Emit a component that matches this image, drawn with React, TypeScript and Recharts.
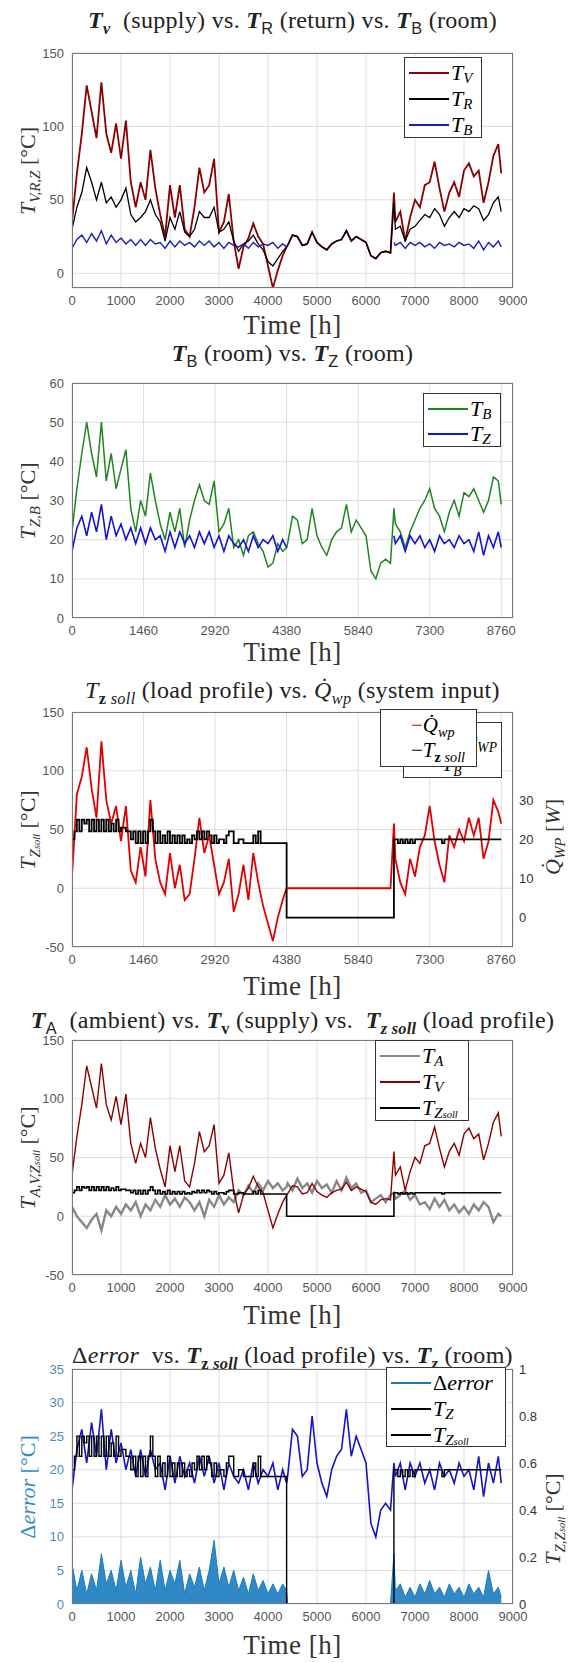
import React from "react";
import {
  ComposedChart,
  Line,
  Area,
  XAxis,
  YAxis,
  CartesianGrid,
} from "recharts";

// time grid (h), shared by the hourly series
const HOURS = [
  0, 100, 200, 300, 400, 500, 600, 700, 800, 900, 1000, 1100, 1200, 1300, 1400,
  1500, 1600, 1700, 1800, 1900, 2000, 2100, 2200, 2300, 2400, 2500, 2600, 2700,
  2800, 2900, 3000, 3100, 3200, 3300, 3400, 3500, 3600, 3700, 3800, 3900, 4000,
  4100, 4200, 4300, 4380,
  4400, 4500, 4600, 4700, 4800, 4900, 5000, 5100, 5200, 5300, 5400, 5500, 5600,
  5700, 5800, 5900, 6000, 6100, 6200, 6300, 6400, 6500,
  6570, 6600, 6700, 6800, 6900, 7000, 7100, 7200, 7300, 7400, 7500, 7600, 7700,
  7800, 7900, 8000, 8100, 8200, 8300, 8400, 8500, 8600, 8700, 8760,
];

// 4400..6500 h: heating off, all temperatures follow the room
const GAP_ROOM = [19, 26, 25, 19, 20, 28, 21, 18, 16, 20, 22, 23, 29, 22, 25, 23, 21, 12, 10, 14, 15, 14];
const GAP_ZERO = [0, 0, 0, 0, 0, 0, 0, 0, 0, 0, 0, 0, 0, 0, 0, 0, 0, 0, 0, 0, 0, 0];
const GAP_NONE = [null, null, null, null, null, null, null, null, null, null, null,
  null, null, null, null, null, null, null, null, null, null, null];

// supply temperature T_V
const TV_EARLY = [35, 68, 95, 128, 110, 92, 130, 95, 82, 102, 78, 104, 62, 45, 62, 50, 84, 58, 40, 25, 60, 38, 60, 30, 25, 45, 72, 55, 60, 78, 28, 35, 54, 22, 3, 18, 24, 34, 25, 20, 5, -10, 2, 12, 18];
const TV_LATE = [55, 35, 42, 22, 38, 50, 45, 60, 62, 76, 58, 42, 55, 62, 52, 70, 75, 66, 70, 48, 62, 80, 88, 68];

// return temperature T_R
const TR_EARLY = [30, 45, 55, 72, 62, 50, 62, 48, 52, 45, 50, 58, 40, 35, 38, 42, 50, 40, 35, 22, 38, 30, 42, 28, 25, 30, 42, 38, 38, 45, 28, 30, 35, 22, 15, 20, 22, 26, 20, 16, 8, 5, 10, 15, 18];
const TR_LATE = [48, 30, 32, 22, 30, 32, 36, 40, 38, 44, 40, 32, 38, 42, 38, 44, 42, 46, 44, 36, 40, 48, 52, 42];

// room temperature T_Z
const TZ_EARLY = [17, 23, 26, 21, 27, 22, 29, 20, 26, 21, 24, 20, 23, 19, 23, 19, 23, 20, 21, 17, 22, 18, 22, 19, 21, 18, 22, 19, 22, 18, 21, 17, 21, 19, 18, 20, 17, 21, 18, 20, 19, 21, 17, 20, 18];
const TZ_LATE = [21, 19, 21, 17, 21, 19, 21, 18, 20, 17, 21, 19, 20, 18, 21, 19, 20, 17, 22, 16, 21, 18, 22, 18];

// buffer temperature T_B (second plot)
const TB_EARLY = [22, 33, 42, 50, 42, 36, 50, 35, 42, 33, 38, 43, 28, 22, 30, 26, 37, 30, 24, 20, 27, 22, 28, 18, 25, 30, 34, 30, 29, 35, 22, 24, 28, 18, 20, 16, 21, 22, 19, 17, 13, 14, 19, 17, 18];
const TB_LATE = [28, 24, 22, 18, 22, 25, 28, 30, 33, 28, 26, 22, 27, 30, 26, 32, 31, 33, 30, 27, 30, 36, 35, 29];

// heat pump input Q_wp
const Q_EARLY = [10, 80, 95, 120, 85, 60, 125, 75, 55, 70, 40, 70, 15, 5, 35, 10, 75, 25, 5, -5, 30, 0, 20, -10, -5, 25, 60, 30, 45, 20, -5, 5, 25, -20, -5, 20, -10, 30, 5, -15, -30, -45, -25, -10, 0];
const Q_LATE = [55, 25, 5, -5, 25, 10, 35, 45, 70, 40, 20, 5, 45, 35, 50, 40, 60, 45, 60, 25, 40, 75, 65, 55];

// ambient temperature T_A
const TA_EARLY = [8, 0, -5, -10, -3, 2, -12, 5, 0, 8, 2, 10, 5, 12, 0, 10, 5, 14, 8, 18, 10, 15, 8, 16, 12, 5, 12, 0, 14, 8, 18, 10, 16, 12, 22, 18, 26, 20, 28, 22, 30, 24, 28, 22, 25];
const TA_GAP = [28, 22, 32, 24, 28, 20, 30, 24, 27, 20, 30, 22, 33, 24, 28, 20, 22, 12, 15, 18, 12, 18];
const TA_LATE = [20, 15, 18, 22, 14, 18, 10, 12, 6, 15, 8, 14, 5, 10, 3, 8, 2, 10, 5, 12, 8, -5, 2, 0];

// control error
const ERR_EARLY = [6, 2, 5, 1.5, 4.5, 2, 7.5, 3, 5, 2, 6.5, 2.5, 5, 1.5, 7, 3, 5.5, 2, 6.5, 2, 5, 3, 6.5, 1.5, 4.5, 2.5, 5.5, 2, 5, 9.5, 3, 5.5, 2.5, 5, 2, 4, 1.5, 4.5, 2, 3.5, 1.5, 3, 1.5, 3, 2];
const ERR_LATE = [7.5, 2, 3, 1, 2.5, 1, 3, 1.5, 3.5, 1.5, 2.5, 1, 3, 1.5, 2.5, 1, 3, 1.5, 2.5, 1, 5, 1.5, 2.5, 1];

// load profile T_Z,soll (step changes)
const SOLL_HOURS = [0, 50, 100, 150, 200, 250, 300, 350, 400, 450, 500, 550, 600, 650, 700, 750, 800, 850, 900, 950, 1000, 1100, 1200, 1250, 1300, 1350, 1400, 1450, 1500, 1550, 1600, 1650, 1700, 1750, 1800, 1850, 1900, 1950, 2000, 2050, 2100, 2150, 2200, 2250, 2300, 2350, 2400, 2450, 2500, 2550, 2600, 2650, 2700, 2750, 2800, 2850, 2900, 2950, 3000, 3100, 3150, 3200, 3300, 3400, 3500, 3700, 3750, 3800, 3850, 3900, 4380, 6570, 6650, 6700, 6750, 6800, 6850, 6900, 6950, 7000, 7550, 7600, 8760];
const SOLL_VALUES = [20, 22, 25, 22, 25, 24, 25, 22, 25, 22, 25, 22, 25, 22, 25, 22, 24, 22, 25, 22, 23, 22, 20, 22, 19, 22, 19, 22, 19, 22, 25, 22, 19, 22, 19, 21, 19, 22, 19, 21, 19, 21, 19, 21, 19, 20, 19, 21, 20, 22, 20, 22, 20, 22, 21, 19, 21, 19, 20, 19, 21, 22, 19, 20, 19, 21, 19, 22, 19, 19, 0, 20, 19, 20, 19, 20, 19, 20, 19, 20, 19, 20, 20];

const TICKS_1000 = [0, 1000, 2000, 3000, 4000, 5000, 6000, 7000, 8000, 9000];
const TICKS_1460 = [0, 1460, 2920, 4380, 5840, 7300, 8760];

const tv = [...TV_EARLY, ...GAP_ROOM, ...TV_LATE];
const tr = [...TR_EARLY, ...GAP_ROOM, ...TR_LATE];
const tzCut = [...TZ_EARLY, ...GAP_NONE, ...TZ_LATE];
const tzFull = [...TZ_EARLY, ...GAP_ROOM, ...TZ_LATE];
const tb = [...TB_EARLY, ...GAP_ROOM, ...TB_LATE];
const q = [...Q_EARLY, ...GAP_ZERO, ...Q_LATE];
const ta = [...TA_EARLY, ...TA_GAP, ...TA_LATE];
const err = [...ERR_EARLY, ...GAP_ZERO, ...ERR_LATE];

const rows = HOURS.map((h, i) => ({
  h,
  tv: tv[i],
  tr: tr[i],
  tzCut: tzCut[i],
  tzFull: tzFull[i],
  tb: tb[i],
  q: q[i],
  ta: ta[i],
  err: err[i],
}));
const sollRows = SOLL_HOURS.map((h, i) => ({ h, soll: SOLL_VALUES[i] }));

const PL = 72;
const PR = 513;
const PH = 235;
const TOP_PAD = 10;
const SERIF = "'Liberation Serif', 'Times New Roman', serif";
const SANS = "'Liberation Sans', Arial, sans-serif";
const tick = { fill: "#555", fontSize: 13, fontFamily: SANS };

const Sub = ({ children, sans }: { children: React.ReactNode; sans?: boolean }) => (
  <span style={{ fontSize: "0.68em", position: "relative", top: "0.35em", fontFamily: sans ? SANS : undefined }}>
    {children}
  </span>
);
const BT = () => <span style={{ fontWeight: "bold", fontStyle: "italic" }}>T</span>;
const IT = ({ children }: { children: React.ReactNode }) => <i>{children}</i>;
const DErr = () => <span>Δ<i>error</i></span>;

function Title({ y, children }: { y: number; children: React.ReactNode }) {
  return (
    <div style={{ position: "absolute", left: PL - 70, width: PR - PL + 140, top: y - 15, height: 30, lineHeight: "30px", textAlign: "center", fontFamily: SERIF, fontSize: 24, letterSpacing: 0.3, color: "#222", whiteSpace: "nowrap" }}>
      {children}
    </div>
  );
}

function XLabel({ y }: { y: number }) {
  return (
    <div style={{ position: "absolute", left: PL + 120, width: PR - PL - 240, top: y - 15, height: 30, lineHeight: "30px", textAlign: "center", fontFamily: SERIF, fontSize: 27, letterSpacing: 0.5, color: "#333" }}>
      Time [h]
    </div>
  );
}

function YLabel({ x, y, color, children }: { x: number; y: number; color?: string; children: React.ReactNode }) {
  return (
    <div style={{ position: "absolute", left: x, top: y, transform: "translate(-50%, -50%) rotate(-90deg)", fontFamily: SERIF, fontSize: 22, color: color || "#333", whiteSpace: "nowrap" }}>
      {children}
    </div>
  );
}

type Entry = { color: string; label: React.ReactNode };
function Legend({ left, top, width, height, rows: entries, lineLen = 40, rowGap = 26 }: { left: number; top: number; width: number; height: number; rows: Entry[]; lineLen?: number; rowGap?: number }) {
  return (
    <div style={{ position: "absolute", left, top, width, height, boxSizing: "border-box", border: "1px solid #333", background: "#fff", fontFamily: SERIF, fontSize: 22 }}>
      {entries.map((e, i) => (
        <div key={i} style={{ position: "absolute", left: 4, top: 3 + i * rowGap, height: 24, display: "flex", alignItems: "center", whiteSpace: "nowrap" }}>
          <span style={{ display: "inline-block", width: lineLen, height: 1.3, background: e.color, marginRight: 2 }} />
          {e.label}
        </div>
      ))}
    </div>
  );
}

function Frame({ top }: { top: number }) {
  return <div style={{ position: "absolute", left: PL, top, width: PR - PL, height: PH, boxSizing: "border-box", border: "1px solid #777", pointerEvents: "none" }} />;
}

function chartProps(top: number, hasRight: boolean) {
  return {
    width: 570,
    height: PH + TOP_PAD + 30,
    data: rows,
    margin: { top: TOP_PAD, right: hasRight ? 0 : 570 - PR, bottom: 0, left: 0 },
    style: { position: "absolute" as const, left: 0, top: top - TOP_PAD },
  };
}

function xAxis(ticks: number[]) {
  return (
    <XAxis dataKey="h" type="number" domain={[0, 9000]} ticks={ticks} interval={0} allowDataOverflow axisLine={false} tickLine={false} tick={tick} height={30} />
  );
}

function leftAxis(domain: number[], ticks: number[], color?: string) {
  return (
    <YAxis yAxisId="l" type="number" domain={domain} ticks={ticks} interval={0} allowDataOverflow axisLine={false} tickLine={false} width={PL} tickSize={4} tickMargin={4} tick={{ ...tick, fill: color || tick.fill }} />
  );
}

const P1 = 53;
const P2 = 383;
const P3 = 712;
const P4 = 1040;
const P5 = 1369;

export default function App() {
  return (
    <div style={{ position: "relative", width: 570, height: 1663, background: "#fff", overflow: "hidden" }}>
      <style>{"body{margin:0}"}</style>

      {/* 1: supply / return / buffer */}
      <ComposedChart {...chartProps(P1, false)}>
        <CartesianGrid yAxisId="l" stroke="#dedede" />
        {xAxis(TICKS_1000)}
        {leftAxis([-10, 150], [0, 50, 100, 150])}
        <Line yAxisId="l" dataKey="tv" stroke="#8b0000" strokeWidth={1.8} dot={false} isAnimationActive={false} />
        <Line yAxisId="l" dataKey="tr" stroke="#000" strokeWidth={1.3} dot={false} isAnimationActive={false} />
        <Line yAxisId="l" dataKey="tzCut" stroke="#1c1cc0" strokeWidth={1.4} dot={false} isAnimationActive={false} />
      </ComposedChart>
      <Frame top={P1} />
      <Title y={20}>
        <BT /><Sub><b><i>v</i></b></Sub>&nbsp; (supply) vs. <BT /><Sub sans>R</Sub> (return) vs. <BT /><Sub sans>B</Sub> (room)
      </Title>
      <YLabel x={28} y={P1 + PH / 2}><IT>T</IT><Sub><i>V,R,Z</i></Sub> [°C]</YLabel>
      <Legend left={404} top={57} width={78} height={81} rowGap={26} rows={[
        { color: "#8b0000", label: <><i>T</i><Sub><i>V</i></Sub></> },
        { color: "#000", label: <><i>T</i><Sub><i>R</i></Sub></> },
        { color: "#1c1cc0", label: <><i>T</i><Sub><i>B</i></Sub></> },
      ]} />
      <XLabel y={325} />

      {/* 2: buffer vs room */}
      <ComposedChart {...chartProps(P2, false)}>
        <CartesianGrid yAxisId="l" stroke="#dedede" />
        {xAxis(TICKS_1460)}
        {leftAxis([0, 60], [0, 10, 20, 30, 40, 50, 60])}
        <Line yAxisId="l" dataKey="tb" stroke="#1f861f" strokeWidth={1.5} dot={false} isAnimationActive={false} />
        <Line yAxisId="l" dataKey="tzCut" stroke="#1414d8" strokeWidth={1.6} dot={false} isAnimationActive={false} />
      </ComposedChart>
      <Frame top={P2} />
      <Title y={353}>
        <BT /><Sub sans>B</Sub> (room) vs. <BT /><Sub sans>Z</Sub> (room)
      </Title>
      <YLabel x={28} y={P2 + PH / 2}><IT>T</IT><Sub><i>Z,B</i></Sub> [°C]</YLabel>
      <Legend left={423} top={393} width={78} height={54} rowGap={25} rows={[
        { color: "#1f861f", label: <><i>T</i><Sub><i>B</i></Sub></> },
        { color: "#1414d8", label: <><i>T</i><Sub><i>Z</i></Sub></> },
      ]} />
      <XLabel y={652} />

      {/* 3: load profile vs heat pump input */}
      <ComposedChart {...chartProps(P3, true)}>
        <CartesianGrid yAxisId="l" stroke="#dedede" />
        {xAxis(TICKS_1460)}
        {leftAxis([-50, 150], [-50, 0, 50, 100, 150])}
        <YAxis yAxisId="r" orientation="right" type="number" domain={[-7.5, 52.5]} ticks={[0, 10, 20, 30]} interval={0} allowDataOverflow axisLine={false} tickLine={false} width={570 - PR} tickSize={2} tickMargin={4} tick={{ ...tick, fill: "#333" }} />
        <Line yAxisId="l" dataKey="q" stroke="#e00000" strokeWidth={1.8} dot={false} isAnimationActive={false} />
        <Line yAxisId="r" data={sollRows} dataKey="soll" type="stepAfter" stroke="#000" strokeWidth={1.8} dot={false} isAnimationActive={false} />
      </ComposedChart>
      <Frame top={P3} />
      <Title y={690}>
        <i>T</i><Sub><b>z</b> <i>soll</i></Sub> (load profile) vs. <i>Q{"\u0307"}</i><Sub><i>wp</i></Sub> (system input)
      </Title>
      <YLabel x={28} y={P3 + PH / 2}><IT>T</IT><Sub><i>Z<span style={{ fontSize: "0.7em" }}>soll</span></i></Sub> [°C]</YLabel>
      <YLabel x={553} y={P3 + 125}><IT>Q{"\u0307"}</IT><Sub><i>WP</i></Sub> [<i>W</i>]</YLabel>
      <div style={{ position: "absolute", left: 403, top: 722, width: 99, height: 56, boxSizing: "border-box", border: "1px solid #333", background: "#fff", fontFamily: SERIF, fontSize: 20 }}>
        <div style={{ position: "absolute", right: 4, top: 6 }}><i>Q{"\u0307"}</i><Sub><i>WP</i></Sub></div>
        <div style={{ position: "absolute", left: 38, top: 30 }}><i>T</i><Sub><i>B</i></Sub></div>
      </div>
      <div style={{ position: "absolute", left: 380, top: 709, width: 97, height: 58, boxSizing: "border-box", border: "1px solid #333", background: "#fff", fontFamily: SERIF, fontSize: 21 }}>
        <div style={{ position: "absolute", left: 30, top: 3, whiteSpace: "nowrap" }}><span style={{ color: "#e00000" }}>−</span><i>Q{"\u0307"}</i><Sub><i>wp</i></Sub></div>
        <div style={{ position: "absolute", left: 30, top: 28, whiteSpace: "nowrap" }}>−<i>T</i><Sub><b>z</b> <i>soll</i></Sub></div>
      </div>
      <XLabel y={986} />

      {/* 4: ambient / supply / load profile */}
      <ComposedChart {...chartProps(P4, false)}>
        <CartesianGrid yAxisId="l" stroke="#dedede" />
        {xAxis(TICKS_1000)}
        {leftAxis([-50, 150], [-50, 0, 50, 100, 150])}
        <Line yAxisId="l" dataKey="ta" stroke="#888" strokeWidth={2.4} dot={false} isAnimationActive={false} />
        <Line yAxisId="l" dataKey="tv" stroke="#8b0000" strokeWidth={1.4} dot={false} isAnimationActive={false} />
        <Line yAxisId="l" data={sollRows} dataKey="soll" type="stepAfter" stroke="#000" strokeWidth={1.6} dot={false} isAnimationActive={false} />
      </ComposedChart>
      <Frame top={P4} />
      <Title y={1020}>
        <BT /><Sub sans>A</Sub>&nbsp; (ambient) vs. <BT /><Sub><b>v</b></Sub> (supply) vs.&nbsp; <BT /><Sub><b><i>z soll</i></b></Sub> (load profile)
      </Title>
      <YLabel x={28} y={P4 + PH / 2}><IT>T</IT><Sub><i>A,V,Z<span style={{ fontSize: "0.7em" }}>soll</span></i></Sub> [°C]</YLabel>
      <Legend left={375} top={P4} width={94} height={81} rowGap={26} rows={[
        { color: "#888", label: <><i>T</i><Sub><i>A</i></Sub></> },
        { color: "#8b0000", label: <><i>T</i><Sub><i>V</i></Sub></> },
        { color: "#000", label: <><i>T</i><Sub><i>Z<span style={{ fontSize: "0.7em" }}>soll</span></i></Sub></> },
      ]} />
      <XLabel y={1315} />

      {/* 5: error / room / load profile */}
      <ComposedChart {...chartProps(P5, true)}>
        <CartesianGrid yAxisId="l" stroke="#dedede" />
        {xAxis(TICKS_1000)}
        {leftAxis([0, 35], [0, 5, 10, 15, 20, 25, 30, 35], "#4b8db8")}
        <YAxis yAxisId="r" orientation="right" type="number" domain={[0, 1]} ticks={[0, 0.2, 0.4, 0.6, 0.8, 1]} interval={0} allowDataOverflow axisLine={false} tickLine={false} width={570 - PR} tickSize={2} tickMargin={4} tick={{ ...tick, fill: "#333" }} />
        <Area yAxisId="l" dataKey="err" stroke="#1a7cc0" fill="#1a7cc0" fillOpacity={0.9} strokeWidth={1} dot={false} isAnimationActive={false} />
        <Line yAxisId="l" dataKey="tzFull" stroke="#1414c8" strokeWidth={1.6} dot={false} isAnimationActive={false} />
        <Line yAxisId="l" data={sollRows} dataKey="soll" type="stepAfter" stroke="#000" strokeWidth={1.4} dot={false} isAnimationActive={false} />
      </ComposedChart>
      <Frame top={P5} />
      <Title y={1355}>
        <DErr />&nbsp; vs. <BT /><Sub><b>z</b> <b><i>soll</i></b></Sub> (load profile) vs. <BT /><Sub><b><i>z</i></b></Sub> (room)
      </Title>
      <YLabel x={28} y={P5 + PH / 2} color="#2f8cc8"><DErr /> [°C]</YLabel>
      <YLabel x={553} y={P5 + 150}><IT>T</IT><Sub><i>Z,Z<span style={{ fontSize: "0.7em" }}>soll</span></i></Sub> [°C]</YLabel>
      <Legend left={386} top={P5 - 2} width={120} height={80} rowGap={26} rows={[
        { color: "#1a7cc0", label: <DErr /> },
        { color: "#000", label: <><i>T</i><Sub><i>Z</i></Sub></> },
        { color: "#000", label: <><i>T</i><Sub><i>Z<span style={{ fontSize: "0.7em" }}>soll</span></i></Sub></> },
      ]} />
      <XLabel y={1645} />
    </div>
  );
}
